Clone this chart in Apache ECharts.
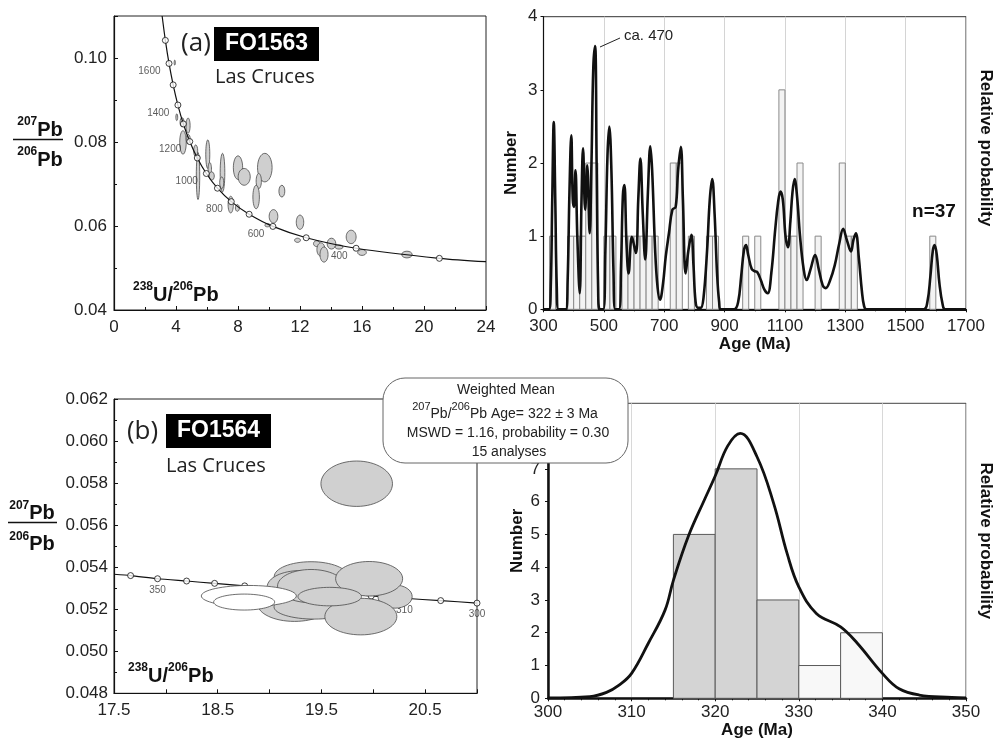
<!DOCTYPE html>
<html>
<head>
<meta charset="utf-8">
<script src="https://cdn.jsdelivr.net/npm/echarts@6/dist/echarts.min.js"></script>
<style>
html, body { margin: 0; padding: 0; background: #fff; }
#main { width: 995px; height: 743px; }
</style>
</head>
<body>
<div id="main"></div>
<script>
// (a) FO1563 concordia, Tera-Wasserburg
const concAgeA = [1800, 1700, 1600, 1500, 1400, 1300, 1200, 1100, 1000, 900, 800, 700, 600, 500, 400, 300, 263];
const concXA = [3.105, 3.314, 3.550, 3.817, 4.122, 4.476, 4.888, 5.374, 5.959, 6.674, 7.568, 8.718, 10.252, 12.40, 15.62, 20.99, 24];
const concYA = [0.1100, 0.1042, 0.0987, 0.0936, 0.0888, 0.0843, 0.0801, 0.0762, 0.0725, 0.0690, 0.0658, 0.0628, 0.0599, 0.0572, 0.0547, 0.0523, 0.0515];
const ageLabelsA = [1600, 1400, 1200, 1000, 800, 600, 400];

// error ellipses (a): centre and half axes
const ellXA = [3.92, 4.05, 4.39, 4.78, 4.45, 4.79, 5.27, 5.42, 6.05, 6.18, 6.3, 7.0, 6.95, 7.53, 7.96, 8.0, 8.4, 9.73, 9.34, 9.17, 10.83, 10.29, 9.9, 12.0, 11.84, 13.08, 13.35, 13.55, 14.03, 14.52, 15.3, 16.0, 18.9];
const ellYA = [0.0989, 0.0859, 0.0847, 0.0839, 0.0799, 0.0807, 0.0779, 0.0719, 0.0771, 0.0735, 0.0719, 0.0727, 0.0703, 0.0651, 0.0643, 0.0739, 0.0717, 0.0739, 0.0707, 0.0669, 0.0683, 0.0623, 0.0602, 0.0609, 0.0566, 0.0558, 0.0544, 0.0532, 0.0558, 0.0550, 0.0574, 0.0537, 0.0532];
const ellRXA = [0.04, 0.06, 0.13, 0.13, 0.21, 0.13, 0.13, 0.11, 0.13, 0.11, 0.17, 0.15, 0.13, 0.17, 0.13, 0.30, 0.39, 0.47, 0.17, 0.21, 0.19, 0.28, 0.17, 0.24, 0.19, 0.21, 0.26, 0.26, 0.28, 0.26, 0.32, 0.28, 0.34];
const ellRYA = [0.0006, 0.0008, 0.0011, 0.0018, 0.0028, 0.0011, 0.0014, 0.0056, 0.0034, 0.0016, 0.0010, 0.0046, 0.0014, 0.0020, 0.0008, 0.0028, 0.0020, 0.0034, 0.0018, 0.0028, 0.0014, 0.0016, 0.0004, 0.0017, 0.0005, 0.0007, 0.0016, 0.0018, 0.0013, 0.0005, 0.0016, 0.0007, 0.0008];

// (a) age histogram, 20 Ma bins
const binStartA = [320, 380, 400, 420, 440, 460, 500, 520, 560, 580, 600, 620, 640, 660, 720, 740, 780, 840, 860, 960, 1000, 1080, 1100, 1120, 1140, 1200, 1280, 1300, 1320, 1580];
const binCountA = [1, 1, 1, 1, 2, 2, 1, 1, 1, 1, 1, 1, 1, 1, 2, 2, 1, 1, 1, 1, 1, 3, 1, 1, 2, 1, 2, 1, 1, 1];

// (a) relative probability curve (in Number units)
const pdfAgeA = [300, 318, 324, 329, 334, 339, 344, 350, 374, 380, 386, 392, 397, 401, 406, 412, 420, 426, 431, 438, 445, 453, 459, 465, 471, 476, 481, 486, 498, 505, 512, 518, 525, 532, 538, 550, 557, 563, 568, 575, 582, 593, 606, 614, 621, 629, 637, 646, 654, 660, 670, 678, 686, 696, 705, 716, 727, 738, 746, 755, 762, 771, 780, 790, 797, 804, 812, 821, 830, 842, 851, 859, 867, 875, 882, 888, 932, 945, 955, 964, 971, 978, 990, 1000, 1008, 1020, 1032, 1043, 1055, 1068, 1077, 1085, 1093, 1102, 1110, 1118, 1125, 1132, 1140, 1150, 1162, 1172, 1185, 1200, 1212, 1225, 1235, 1250, 1265, 1280, 1293, 1305, 1319, 1327, 1335, 1345, 1355, 1362, 1370, 1560, 1572, 1582, 1590, 1596, 1603, 1612, 1622, 1631, 1700];
const pdfValA = [0, 0, 0.3, 1.5, 2.56, 1.5, 0.3, 0, 0, 0.4, 1.6, 2.38, 1.5, 1.4, 1.9, 1.0, 0.22, 1.5, 2.2, 1.36, 1.97, 1.04, 2.0, 3.3, 3.6, 2.0, 0.3, 0, 0, 0.8, 2.1, 2.5, 1.9, 0.5, 0, 0, 0.6, 1.55, 1.7, 0.9, 0.49, 0.99, 0.77, 1.5, 2.06, 1.3, 0.68, 1.6, 2.23, 1.9, 0.8, 0.3, 0.13, 0.35, 0.72, 1.05, 1.36, 1.4, 1.9, 2.22, 1.5, 0.49, 0.8, 1.02, 0.6, 0.1, 0.02, 0.02, 0.15, 0.8, 1.5, 1.78, 1.3, 0.5, 0.1, 0, 0, 0.1, 0.45, 0.8, 0.88, 0.75, 0.55, 0.52, 0.51, 0.4, 0.27, 0.22, 0.5, 1.1, 1.45, 1.61, 1.5, 1.0, 0.85, 1.2, 1.6, 1.78, 1.55, 1.0, 0.55, 0.4, 0.55, 0.74, 0.55, 0.33, 0.29, 0.4, 0.6, 0.9, 1.1, 0.95, 0.79, 0.95, 1.04, 0.7, 0.25, 0.05, 0, 0, 0.1, 0.45, 0.8, 0.88, 0.75, 0.35, 0.08, 0, 0];

// (b) FO1564 concordia
const concAgeB = [358, 355, 350, 345, 340, 335, 330, 325, 320, 315, 310, 305, 300];
const concXB = [17.5, 17.66, 17.92, 18.20, 18.47, 18.76, 19.06, 19.35, 19.66, 19.98, 20.30, 20.65, 21.0];
const concYB = [0.05366, 0.05360, 0.05345, 0.05334, 0.05323, 0.05311, 0.05299, 0.05287, 0.05275, 0.05263, 0.05252, 0.05241, 0.05229];
const ageLabelsB = [350, 310, 300];

// error ellipses (b); used = 1 grey (in mean), 0 white
const ellXB = [19.84, 20.21, 19.40, 19.30, 19.24, 19.43, 19.40, 19.96, 19.88, 19.58, 18.80, 18.755];
const ellYB = [0.05797, 0.0526, 0.05355, 0.05306, 0.05225, 0.05211, 0.0531, 0.05345, 0.05165, 0.0526, 0.05263, 0.05234];
const ellRXB = [0.345, 0.165, 0.355, 0.323, 0.355, 0.387, 0.323, 0.323, 0.347, 0.306, 0.458, 0.294];
const ellRYB = [0.00108, 0.00055, 0.00071, 0.00078, 0.00083, 0.00058, 0.00079, 0.00082, 0.00087, 0.00044, 0.00050, 0.00038];
const ellUsedB = [1, 1, 1, 1, 1, 1, 1, 1, 1, 1, 0, 0];

// (b) histogram, 5 Ma bins
const binStartB = [315, 320, 325, 330, 335];
const binCountB = [5, 7, 3, 1, 2];
const binUsedB = [1, 1, 1, 0, 0];

// (b) relative probability curve
const pdfAgeB = [300, 305, 307, 308.5, 310, 312, 314, 315, 316.8, 318.7, 320, 321.5, 323, 325, 327, 328.6, 330, 332.1, 335, 337, 340, 342, 344.4, 348.3, 350];
const pdfValB = [0.01, 0.05, 0.18, 0.4, 0.76, 1.68, 2.69, 3.6, 4.95, 6.05, 6.78, 7.7, 8.08, 7.37, 5.94, 4.42, 3.4, 2.59, 2.18, 1.68, 0.76, 0.29, 0.10, 0.03, 0.01];

const FONT = '"Liberation Sans", Arial, sans-serif';
const HUMAN = '"Open Sans", "Noto Sans", sans-serif';

const chart = echarts.init(document.getElementById('main'), null, { renderer: 'canvas' });

function ellipseRender(fills) {
  return function (params, api) {
    const c = api.coord([api.value(0), api.value(1)]);
    const e = api.coord([api.value(0) + api.value(2), api.value(1) + api.value(3)]);
    return {
      type: 'ellipse',
      shape: { cx: c[0], cy: c[1], rx: Math.abs(e[0] - c[0]), ry: Math.abs(e[1] - c[1]) },
      style: { fill: fills[params.dataIndex], stroke: '#4a4a4a', lineWidth: 0.8 }
    };
  };
}

function binRender(width, fills, stroke) {
  return function (params, api) {
    const p0 = api.coord([api.value(0), api.value(1)]);
    const p1 = api.coord([api.value(0) + width, 0]);
    return {
      type: 'rect',
      shape: { x: p0[0], y: p0[1], width: p1[0] - p0[0], height: p1[1] - p0[1] },
      style: { fill: fills[params.dataIndex], stroke: stroke, lineWidth: 1 }
    };
  };
}

function circles(xs, ys, ages, labelled, step, lastAge) {
  const out = [];
  for (let i = 0; i < xs.length; i++) {
    if (ages[i] % step !== 0 || ages[i] > lastAge) continue;
    out.push({ value: [xs[i], ys[i], ages[i]], label: { show: labelled.indexOf(ages[i]) >= 0 } });
  }
  return out;
}

const tickLabel = { color: '#222', fontFamily: FONT, fontSize: 17 };
const boldName = { color: '#111', fontFamily: FONT, fontSize: 17, fontWeight: 'bold' };
const sup = { fontFamily: FONT, fontSize: 12, fontWeight: 'bold', fill: '#111', lineHeight: 14, verticalAlign: 'top' };
const big = { fontFamily: FONT, fontSize: 20, fontWeight: 'bold', fill: '#111', lineHeight: 24, verticalAlign: 'bottom' };

function richText(x, y, text, align) {
  return {
    type: 'text', x: x, y: y, z: 50,
    style: { text: text, rich: { s: sup, b: big }, align: align, verticalAlign: 'middle' }
  };
}

function plain(v) { return String(v); }

const option = {
  animation: false,
  backgroundColor: '#fff',
  grid: [
    { left: 114, top: 16, width: 372, height: 294, show: true, borderColor: '#222', borderWidth: 1 },
    { left: 543.5, top: 16.7, width: 423.5, height: 292.6, show: true, borderColor: '#333', borderWidth: 1 },
    { left: 114, top: 399, width: 363, height: 294.3, show: true, borderColor: '#222', borderWidth: 1 },
    { left: 548, top: 403.3, width: 423, height: 295, show: true, borderColor: '#444', borderWidth: 1 }
  ],
  xAxis: [
    {
      gridIndex: 0, type: 'value', min: 0, max: 24, interval: 4,
      axisLine: { lineStyle: { color: '#111', width: 1.2 } },
      axisTick: { inside: true, length: 4, lineStyle: { color: '#111' } },
      minorTick: { show: true, splitNumber: 2, length: 3, lineStyle: { color: '#111' } },
      axisLabel: Object.assign({ margin: 9, formatter: plain }, tickLabel),
      splitLine: { show: false }
    },
    {
      gridIndex: 1, type: 'value', min: 300, max: 1700, interval: 200,
      name: 'Age (Ma)', nameLocation: 'middle', nameGap: 25, nameTextStyle: boldName,
      axisLine: { lineStyle: { color: '#111', width: 2 } },
      axisTick: { length: 3, lineStyle: { color: '#111' } },
      minorTick: { show: true, splitNumber: 2, length: 2, lineStyle: { color: '#111' } },
      axisLabel: Object.assign({ margin: 9, formatter: plain }, tickLabel),
      splitLine: { show: true, lineStyle: { color: '#d4d4d4', width: 1 } }
    },
    {
      gridIndex: 2, type: 'value', min: 17.5, max: 21, interval: 0.5,
      axisLine: { lineStyle: { color: '#111', width: 1.2 } },
      axisTick: { inside: true, length: 4, lineStyle: { color: '#111' } },
      axisLabel: Object.assign({
        margin: 9,
        formatter: function (v) { return Math.abs((v - 17.5) % 1) < 1e-6 ? v.toFixed(1) : ''; }
      }, tickLabel),
      splitLine: { show: false }
    },
    {
      gridIndex: 3, type: 'value', min: 300, max: 350, interval: 10,
      name: 'Age (Ma)', nameLocation: 'middle', nameGap: 19, nameTextStyle: boldName,
      axisLine: { lineStyle: { color: '#111', width: 2.5 } },
      axisTick: { length: 3, lineStyle: { color: '#111' } },
      minorTick: { show: true, splitNumber: 5, length: 2, lineStyle: { color: '#111' } },
      axisLabel: Object.assign({ margin: 6, formatter: plain }, tickLabel),
      splitLine: { show: true, lineStyle: { color: '#d8d8d8', width: 1 } }
    }
  ],
  yAxis: [
    {
      gridIndex: 0, type: 'value', min: 0.04, max: 0.11, interval: 0.02,
      axisLine: { show: true, lineStyle: { color: '#111', width: 1.2 } },
      axisTick: { show: true, inside: true, length: 4, lineStyle: { color: '#111' } },
      minorTick: { show: true, splitNumber: 2, length: 3, lineStyle: { color: '#111' } },
      axisLabel: Object.assign({ margin: 7, showMaxLabel: false, formatter: function (v) { return v.toFixed(2); } }, tickLabel),
      splitLine: { show: false }
    },
    {
      gridIndex: 1, type: 'value', min: 0, max: 4, interval: 1, position: 'left',
      name: 'Number', nameLocation: 'middle', nameGap: 24, nameTextStyle: boldName,
      axisLine: { show: true, lineStyle: { color: '#111', width: 1.2 } },
      axisTick: { show: true, length: 3, lineStyle: { color: '#111' } },
      axisLabel: Object.assign({ margin: 6 }, tickLabel),
      splitLine: { show: false }
    },
    {
      gridIndex: 1, type: 'value', position: 'right',
      name: 'Relative probability', nameLocation: 'middle', nameGap: 11, nameRotate: -90,
      nameTextStyle: Object.assign({ padding: [0, 30, 0, 0] }, boldName),
      axisLine: { show: false }, axisTick: { show: false }, axisLabel: { show: false }, splitLine: { show: false }
    },
    {
      gridIndex: 2, type: 'value', min: 0.048, max: 0.062, interval: 0.002,
      axisLine: { show: true, lineStyle: { color: '#111', width: 1.2 } },
      axisTick: { show: true, inside: true, length: 4, lineStyle: { color: '#111' } },
      minorTick: { show: true, splitNumber: 2, length: 3, lineStyle: { color: '#111' } },
      axisLabel: Object.assign({ margin: 6, formatter: function (v) { return v.toFixed(3); } }, tickLabel),
      splitLine: { show: false }
    },
    {
      gridIndex: 3, type: 'value', min: 0, max: 9, interval: 1, position: 'left',
      name: 'Number', nameLocation: 'middle', nameGap: 22, nameTextStyle: Object.assign({ padding: [0, 0, 0, 20] }, boldName),
      axisLine: { show: true, lineStyle: { color: '#111', width: 2.5 } },
      axisTick: { show: true, length: 3, lineStyle: { color: '#111' } },
      axisLabel: Object.assign({ margin: 8, formatter: function (v) { return v > 7 ? '' : String(v); } }, tickLabel),
      splitLine: { show: false }
    },
    {
      gridIndex: 3, type: 'value', position: 'right',
      name: 'Relative probability', nameLocation: 'middle', nameGap: 11, nameRotate: -90,
      nameTextStyle: Object.assign({ padding: [0, 20, 0, 0] }, boldName),
      axisLine: { show: false }, axisTick: { show: false }, axisLabel: { show: false }, splitLine: { show: false }
    }
  ],
  series: [
    {
      type: 'custom', xAxisIndex: 0, yAxisIndex: 0, z: 2,
      renderItem: ellipseRender(ellXA.map(function () { return '#cfcfcf'; })),
      encode: { x: 0, y: 1 },
      data: ellXA.map(function (x, i) { return [x, ellYA[i], ellRXA[i], ellRYA[i]]; })
    },
    {
      type: 'line', xAxisIndex: 0, yAxisIndex: 0, z: 3, smooth: 0.3,
      symbol: 'none', lineStyle: { color: '#111', width: 1.2 },
      data: concXA.map(function (x, i) { return [x, concYA[i]]; })
    },
    {
      type: 'scatter', xAxisIndex: 0, yAxisIndex: 0, z: 4,
      symbol: 'circle', symbolSize: 6,
      itemStyle: { color: '#fff', borderColor: '#111', borderWidth: 1 },
      label: {
        position: 'left', distance: 5, offset: [0, 8],
        fontFamily: FONT, fontSize: 10, color: '#333',
        formatter: function (p) { return p.value[2]; }
      },
      data: circles(concXA, concYA, concAgeA, ageLabelsA, 100, 1700)
    },
    {
      type: 'custom', xAxisIndex: 1, yAxisIndex: 1, z: 2,
      renderItem: binRender(20, binCountA.map(function () { return '#f3f3f3'; }), '#8a8a8a'),
      encode: { x: 0, y: 1 },
      data: binStartA.map(function (s, i) { return [s, binCountA[i]]; })
    },
    {
      type: 'line', xAxisIndex: 1, yAxisIndex: 1, z: 3, smooth: 0.4,
      symbol: 'none', lineStyle: { color: '#111', width: 2.6 },
      data: pdfAgeA.map(function (a, i) { return [a, pdfValA[i]]; })
    },
    {
      type: 'line', xAxisIndex: 2, yAxisIndex: 3, z: 2, smooth: 0.2,
      symbol: 'none', lineStyle: { color: '#111', width: 1.1 },
      data: concXB.map(function (x, i) { return [x, concYB[i]]; })
    },
    {
      type: 'scatter', xAxisIndex: 2, yAxisIndex: 3, z: 2,
      symbol: 'circle', symbolSize: 6,
      itemStyle: { color: '#fff', borderColor: '#111', borderWidth: 1 },
      label: {
        position: 'bottom', distance: 3,
        fontFamily: FONT, fontSize: 10, color: '#333',
        formatter: function (p) { return p.value[2]; }
      },
      data: circles(concXB, concYB, concAgeB, ageLabelsB, 5, 355)
    },
    {
      type: 'custom', xAxisIndex: 2, yAxisIndex: 3, z: 3,
      renderItem: ellipseRender(ellUsedB.map(function (u) { return u ? '#d0d0d0' : '#ffffff'; })),
      encode: { x: 0, y: 1 },
      data: ellXB.map(function (x, i) { return [x, ellYB[i], ellRXB[i], ellRYB[i]]; })
    },
    {
      type: 'custom', xAxisIndex: 3, yAxisIndex: 4, z: 2,
      renderItem: binRender(5, binUsedB.map(function (u) { return u ? '#d4d4d4' : '#f8f8f8'; }), '#5a5a5a'),
      encode: { x: 0, y: 1 },
      data: binStartB.map(function (s, i) { return [s, binCountB[i]]; })
    },
    {
      type: 'line', xAxisIndex: 3, yAxisIndex: 4, z: 3, smooth: 0.4,
      symbol: 'none', lineStyle: { color: '#111', width: 2.8 },
      data: pdfAgeB.map(function (a, i) { return [a, pdfValB[i]]; })
    }
  ],
  graphic: [
    // panel (a) titles
    { type: 'text', x: 196, y: 44, z: 50, style: { text: '(a)', font: '26px ' + HUMAN, fill: '#222', align: 'center', verticalAlign: 'middle' } },
    { type: 'rect', shape: { x: 214, y: 27, width: 105, height: 34 }, z: 50, style: { fill: '#000' } },
    { type: 'text', x: 266.5, y: 44, z: 51, style: { text: 'FO1563', font: 'bold 23px ' + FONT, fill: '#fff', align: 'center', verticalAlign: 'middle' } },
    { type: 'text', x: 215, y: 77, z: 50, style: { text: 'Las Cruces', font: '20px ' + HUMAN, fill: '#222', align: 'left', verticalAlign: 'middle' } },
    richText(40, 128, '{s|207}{b|Pb}', 'center'),
    { type: 'line', shape: { x1: 13, y1: 139.5, x2: 63, y2: 139.5 }, z: 50, style: { stroke: '#111', lineWidth: 1.5 } },
    richText(40, 158, '{s|206}{b|Pb}', 'center'),
    richText(133, 293, '{s|238}{b|U/}{s|206}{b|Pb}', 'left'),
    // histogram (a) notes
    { type: 'line', shape: { x1: 600, y1: 47, x2: 620, y2: 38 }, z: 50, style: { stroke: '#222', lineWidth: 1 } },
    { type: 'text', x: 624, y: 36, z: 50, style: { text: 'ca. 470', font: '15px ' + FONT, fill: '#222', align: 'left', verticalAlign: 'middle' } },
    { type: 'text', x: 934, y: 211.5, z: 50, style: { text: 'n=37', font: 'bold 19px ' + FONT, fill: '#111', align: 'center', verticalAlign: 'middle' } },
    // panel (b) titles
    { type: 'text', x: 142.5, y: 431.5, z: 50, style: { text: '(b)', font: '26px ' + HUMAN, fill: '#222', align: 'center', verticalAlign: 'middle' } },
    { type: 'rect', shape: { x: 166, y: 414, width: 105, height: 34 }, z: 50, style: { fill: '#000' } },
    { type: 'text', x: 218.5, y: 431, z: 51, style: { text: 'FO1564', font: 'bold 23px ' + FONT, fill: '#fff', align: 'center', verticalAlign: 'middle' } },
    { type: 'text', x: 166, y: 466.5, z: 50, style: { text: 'Las Cruces', font: '20px ' + HUMAN, fill: '#222', align: 'left', verticalAlign: 'middle' } },
    richText(32, 511.5, '{s|207}{b|Pb}', 'center'),
    { type: 'line', shape: { x1: 8, y1: 522.5, x2: 57, y2: 522.5 }, z: 50, style: { stroke: '#111', lineWidth: 1.5 } },
    richText(32, 542.5, '{s|206}{b|Pb}', 'center'),
    richText(128, 674, '{s|238}{b|U/}{s|206}{b|Pb}', 'left'),
    // weighted mean box
    { type: 'rect', shape: { x: 383, y: 378, width: 245, height: 85, r: 22 }, z: 60, style: { fill: '#fff', stroke: '#666', lineWidth: 1 } },
    { type: 'text', x: 506, y: 390, z: 61, style: { text: 'Weighted Mean', font: '14px ' + FONT, fill: '#222', align: 'center', verticalAlign: 'middle' } },
    {
      type: 'text', x: 505, y: 411, z: 61,
      style: {
        text: '{u|207}{n|Pb/}{u|206}{n|Pb Age= 322 ± 3 Ma}',
        align: 'center', verticalAlign: 'middle',
        rich: {
          u: { fontFamily: FONT, fontSize: 11, fill: '#222', lineHeight: 12, verticalAlign: 'top' },
          n: { fontFamily: FONT, fontSize: 14, fill: '#222', lineHeight: 20, verticalAlign: 'bottom' }
        }
      }
    },
    { type: 'text', x: 508, y: 433, z: 61, style: { text: 'MSWD = 1.16, probability = 0.30', font: '14px ' + FONT, fill: '#222', align: 'center', verticalAlign: 'middle' } },
    { type: 'text', x: 509, y: 452, z: 61, style: { text: '15 analyses', font: '14px ' + FONT, fill: '#222', align: 'center', verticalAlign: 'middle' } }
  ]
};

chart.setOption(option);
</script>
</body>
</html>
